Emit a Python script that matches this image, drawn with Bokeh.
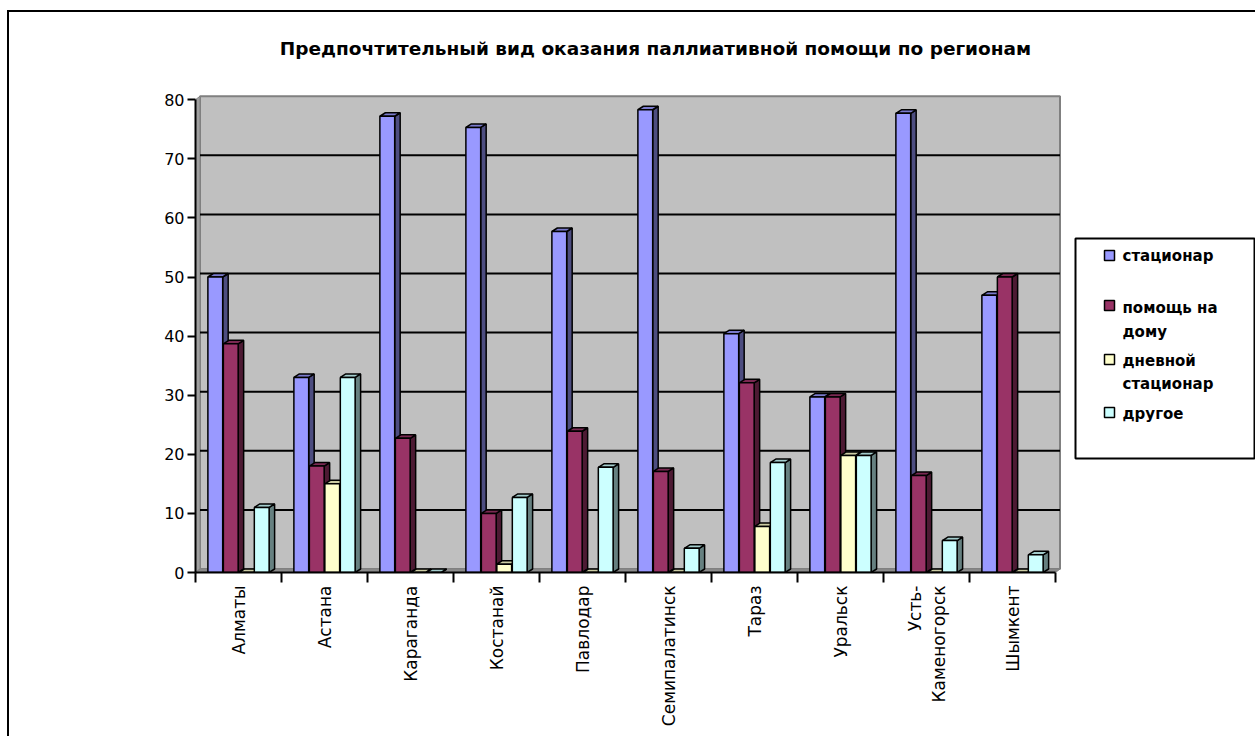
import math
from bokeh.plotting import figure
from bokeh.models import Range1d, FixedTicker, Label
from bokeh.core.properties import value
from bokeh.embed import file_html
from bokeh.resources import INLINE

# ---------------- data ----------------
regions = ["Алматы", "Астана", "Караганда", "Костанай", "Павлодар",
           "Семипалатинск", "Тараз", "Уральск", "Усть-\nКаменогорск", "Шымкент"]
series_names = ["стационар", "помощь на дому", "дневной стационар", "другое"]
statsionar = [50.0, 33.0, 77.2, 75.3, 57.7, 78.3, 40.4, 29.7, 77.7, 46.9]
home_help = [38.7, 18.0, 22.7, 10.0, 23.9, 17.1, 32.1, 29.7, 16.4, 50.0]
day_statsionar = [0.0, 15.0, 0.0, 1.4, 0.0, 0.0, 7.8, 19.8, 0.0, 0.0]
other = [11.0, 33.0, 0.0, 12.7, 17.8, 4.1, 18.6, 19.8, 5.4, 3.0]
y_ticks = [0, 10, 20, 30, 40, 50, 60, 70, 80]
title_text = "Предпочтительный вид оказания паллиативной помощи по регионам"
legend_lines = [["стационар"], ["помощь на", "дому"], ["дневной", "стационар"], ["другое"]]

series = [statsionar, home_help, day_statsionar, other]
front_colors = ["#9999FF", "#993366", "#FFFFCC", "#CCFFFF"]
top_colors = ["#7A7ACC", "#7A2952", "#CCCCA3", "#A3CCCC"]
side_colors = ["#4D4D80", "#4D1A33", "#808066", "#668080"]

# ---------------- geometry (style) ----------------
n = len(regions)
ORX, ORY = 9, 12            # canvas origin on the page (margin + border)
X0_PAGE, Y0_PAGE = 195, 572  # page position of data (0, 0)
px_x = 86.0                 # pixels per category
px_y = 5.91                 # pixels per unit
W, H = 1257 - ORX, 738 - ORY


def X(px):
    return (px - X0_PAGE) / px_x


def Y(py):
    return (Y0_PAGE - py) / px_y


dxw = 4.5 / px_x     # wall depth
dyw = 3.5 / px_y
dxb = 5.5 / px_x     # bar depth
dyb = 3.5 / px_y
pitch = 0.18
bw = 0.172

p = figure(width=W, height=H,
           x_range=Range1d(0, X(1257)), y_range=Range1d(0, Y(ORY)),
           min_border_left=X0_PAGE - ORX, min_border_right=0, min_border_top=0,
           min_border_bottom=738 - Y0_PAGE,
           toolbar_location=None, output_backend="svg")
p.styles = {"margin-left": "7px", "margin-top": "10px",
            "border-left": "2px solid black", "border-top": "2px solid black"}
p.outline_line_color = None
p.background_fill_color = "white"
p.border_fill_color = "white"
p.xgrid.visible = False
p.ygrid.visible = False

# walls
p.quad(left=[dxw], right=[n + dxw], bottom=[dyw], top=[80 + dyw],
       fill_color="#C0C0C0", line_color="#808080", line_width=2)
p.patch(x=[0, dxw, dxw, 0], y=[0, dyw, 80 + dyw, 80],
        fill_color="#A0A0A0", line_color="#808080", line_width=1)
p.patch(x=[0, n, n + dxw, dxw], y=[0, 0, dyw, dyw],
        fill_color="#8C8C8C", line_color="#808080", line_width=1)

# gridlines on the back wall
gl = [v for v in y_ticks if 0 < v < 80]
p.segment(x0=[dxw] * len(gl), x1=[n + dxw] * len(gl), y0=[v + dyw for v in gl], y1=[v + dyw for v in gl],
          line_color="black", line_width=2)

# bars (3D look)
for s, vals in enumerate(series):
    xc = [i + 0.5 + (s - 1.5) * pitch for i in range(n)]
    L = [c - bw / 2 for c in xc]
    R = [c + bw / 2 for c in xc]
    side_xs = [[r, r + dxb, r + dxb, r] for r in R]
    side_ys = [[0, dyb, v + dyb, v] for v in vals]
    top_xs = [[l, l + dxb, r + dxb, r] for l, r in zip(L, R)]
    top_ys = [[v, v + dyb, v + dyb, v] for v in vals]
    p.patches(xs=side_xs, ys=side_ys, fill_color=side_colors[s], line_color="black", line_width=1.5)
    p.patches(xs=top_xs, ys=top_ys, fill_color=top_colors[s], line_color="black", line_width=1.5)
    p.quad(left=L, right=R, bottom=[0] * n, top=vals,
           fill_color=front_colors[s], line_color="black", line_width=1.5)

# axes
xa = p.xaxis[0]
xa.ticker = FixedTicker(ticks=[i + 0.5 for i in range(n)], minor_ticks=list(range(n + 1)))
xa.major_label_overrides = {i + 0.5: regions[i] for i in range(n)}
xa.major_label_orientation = math.pi / 2
xa.bounds = (0, n)
xa.major_tick_out = 0
xa.major_tick_in = 0
xa.minor_tick_out = 10
xa.minor_tick_in = 0
xa.minor_tick_line_color = "black"
xa.minor_tick_line_width = 2
xa.axis_line_color = "black"
xa.axis_line_width = 2
xa.major_label_standoff = 3
xa.major_label_text_font = "DejaVu Sans"
xa.major_label_text_font_size = "17px"
xa.major_label_text_color = "black"

ya = p.yaxis[0]
ya.ticker = FixedTicker(ticks=y_ticks)
ya.bounds = (0, 80)
ya.major_tick_out = 8
ya.major_tick_in = 0
ya.minor_tick_out = 0
ya.minor_tick_in = 0
ya.major_tick_line_color = "black"
ya.major_tick_line_width = 2
ya.axis_line_color = "black"
ya.axis_line_width = 2
ya.major_label_standoff = 3
ya.major_label_text_font = "DejaVu Sans"
ya.major_label_text_font_size = "16px"
ya.major_label_text_color = "black"

# title
p.add_layout(Label(x=X(655), y=Y(48), text=title_text,
                   text_align="center", text_baseline="middle", text_font="DejaVu Sans",
                   text_font_style="bold", text_font_size="18.5px", text_color="black"))

# legend (drawn manually)
p.quad(left=[X(1075)], right=[X(1254)], top=[Y(238)], bottom=[Y(458)],
       fill_color="white", line_color="black", line_width=2)
sw_centers = [255, 305, 359, 412]
line_ys = [[255], [307, 331], [360, 383], [413]]
p.rect(x=[X(1109)] * 4, y=[Y(c) for c in sw_centers], width=10, height=10,
       width_units="screen", height_units="screen",
       fill_color=front_colors, line_color="black", line_width=1.5)
lt, lx, ly = [], [], []
for s in range(4):
    for t, yy in zip(legend_lines[s], line_ys[s]):
        lt.append(t)
        lx.append(X(1122))
        ly.append(Y(yy))
p.text(x=lx, y=ly, text=lt, text_align="left", text_baseline="middle",
       text_font=value("DejaVu Sans"), text_font_style="bold", text_font_size="15px", text_color="black")

open("out.html", "w").write(file_html(p, INLINE))
